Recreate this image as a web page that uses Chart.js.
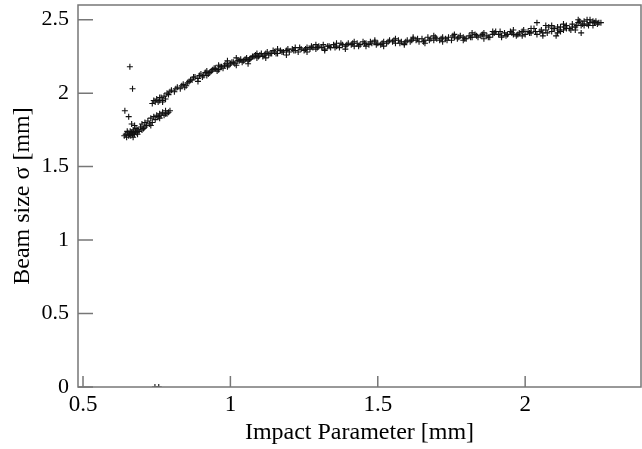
<!DOCTYPE html>
<html>
<head>
<meta charset="utf-8">
<script src="https://cdn.jsdelivr.net/npm/chart.js@4/dist/chart.umd.min.js"></script>
<style>
  html, body { margin: 0; padding: 0; background: #fff; }
  #beamChart { display: block; }
</style>
</head>
<body>
<canvas id="beamChart" width="642" height="449"></canvas>
<script>
// --- data: [impact parameter mm, beam size sigma mm] ---
const xTicks = [0.5, 1, 1.5, 2];
const yTicks = [0, 0.5, 1, 1.5, 2, 2.5];

// tight cluster at the start + stray points
const clusterPts = [
    [0.640,1.71],[0.645,1.72],[0.648,1.70],[0.652,1.73],[0.655,1.71],[0.658,1.72],
    [0.660,1.74],[0.662,1.71],[0.665,1.73],[0.668,1.72],[0.670,1.75],[0.672,1.73],
    [0.675,1.72],[0.678,1.74],[0.680,1.76],[0.683,1.73],[0.686,1.75],[0.690,1.74],
    [0.650,1.74],[0.670,1.70],[0.685,1.72],
    [0.659,2.18],[0.668,2.03],[0.642,1.88],[0.655,1.84],[0.665,1.79],[0.675,1.78]
];

// lower branch (0.69 - 0.80)
const lowerBranchPts = [
    [0.695,1.77],[0.700,1.79],[0.705,1.76],[0.710,1.80],[0.715,1.78],[0.720,1.81],
    [0.725,1.79],[0.730,1.83],[0.735,1.80],[0.740,1.84],[0.745,1.82],[0.750,1.85],
    [0.755,1.84],[0.760,1.86],[0.765,1.85],[0.770,1.87],[0.775,1.85],[0.780,1.88],
    [0.785,1.86],[0.790,1.87],[0.700,1.75],[0.710,1.77],[0.730,1.78],[0.760,1.83],
    [0.780,1.86],[0.795,1.88]
];

// upper branch (0.73 - 0.87)
const upperBranchPts = [
    [0.735,1.93],[0.740,1.95],[0.745,1.94],[0.750,1.96],[0.755,1.94],[0.760,1.95],
    [0.765,1.97],[0.770,1.95],[0.775,1.98],[0.780,1.96],[0.785,2.00],[0.790,1.99],
    [0.800,2.02],[0.810,2.01],[0.820,2.04],[0.830,2.03],[0.840,2.06],[0.850,2.05],
    [0.860,2.08],[0.795,2.01],[0.815,2.03],[0.835,2.05],[0.845,2.04],[0.855,2.07],
    [0.865,2.09],[0.770,1.94],[0.760,1.97]
];

// main curve
const mainCurvePts = [
    [0.87,2.09],[0.88,2.11],[0.89,2.10],[0.90,2.13],[0.91,2.12],[0.92,2.15],[0.93,2.14],
    [0.94,2.16],[0.95,2.17],[0.96,2.16],[0.97,2.18],[0.98,2.19],[0.99,2.18],[1.00,2.20],
    [1.01,2.21],[1.02,2.19],[1.03,2.22],[1.04,2.21],[1.05,2.23],[1.06,2.22],[1.07,2.24],
    [1.08,2.25],[1.09,2.24],[1.10,2.26],[1.11,2.25],[1.12,2.27],[1.13,2.26],[1.14,2.27],
    [1.15,2.28],[1.16,2.27],[1.17,2.29],[1.18,2.28],[1.19,2.29],[1.20,2.28],[1.21,2.30],
    [1.22,2.29],[1.23,2.28],[1.24,2.30],[1.25,2.29],[1.26,2.31],[1.27,2.30],[1.28,2.31],
    [1.29,2.30],[1.30,2.32],[1.31,2.31],[1.32,2.30],[1.33,2.32],[1.34,2.31],[1.35,2.33],
    [1.36,2.32],[1.37,2.31],[1.38,2.33],[1.39,2.32],[1.40,2.34],[1.41,2.33],[1.42,2.32],
    [1.43,2.34],[1.44,2.33],[1.45,2.35],[1.46,2.34],[1.47,2.33],[1.48,2.34],[1.49,2.35],
    [1.50,2.34],[1.51,2.33],[1.52,2.35],[1.53,2.34],[1.54,2.36],[1.55,2.35],[1.56,2.34],
    [1.57,2.36],[1.58,2.35],[1.59,2.34],[1.60,2.36],[1.61,2.35],[1.62,2.37],[1.63,2.36],
    [1.64,2.35],[1.65,2.37],[1.66,2.36],[1.67,2.38],[1.68,2.37],[1.69,2.36],[1.70,2.37],
    [1.71,2.36],[1.72,2.38],[1.73,2.37],[1.74,2.38],[1.75,2.36],[1.76,2.38],[1.77,2.37],
    [1.78,2.39],[1.79,2.38],[1.80,2.37],[1.81,2.39],[1.82,2.38],[1.83,2.40],[1.84,2.38],
    [1.85,2.39],[1.86,2.41],[1.87,2.39],[1.88,2.38],[1.89,2.40],[1.90,2.42],[1.91,2.40],
    [1.92,2.39],[1.93,2.41],[1.94,2.40],[1.95,2.42],[1.96,2.40],[1.97,2.39],[1.98,2.41],
    [1.99,2.42],[2.00,2.40],[2.01,2.42],[2.02,2.41],[2.03,2.44],[2.04,2.40],[2.05,2.42],
    [2.06,2.41],[2.07,2.43],[2.08,2.45],[2.09,2.42],[2.10,2.44],[2.11,2.41],[2.12,2.45],
    [2.13,2.43],[2.14,2.46],[2.15,2.44],[2.16,2.47],[2.17,2.45],[2.18,2.48],[2.19,2.46],
    [2.20,2.49],[2.21,2.47],[2.22,2.48],[2.23,2.46],[2.24,2.49],[2.25,2.48]
];

// extra points in the band
const fillerPts = [
    [0.875,2.11],[0.895,2.12],[0.905,2.11],[0.915,2.14],[0.925,2.13],[0.935,2.15],
    [0.945,2.17],[0.955,2.15],[0.965,2.18],[0.975,2.17],[0.985,2.20],[0.995,2.19],
    [1.005,2.21],[1.015,2.20],[1.025,2.22],[1.035,2.23],[1.045,2.22],[1.055,2.24],
    [1.065,2.23],[1.075,2.25],[1.085,2.26],[1.095,2.25],[1.105,2.27],[1.115,2.26],
    [1.125,2.28],[1.135,2.27],[1.145,2.29],[1.155,2.27],[1.175,2.28],[1.195,2.30],
    [1.215,2.29],[1.235,2.31],[1.255,2.30],[1.275,2.32],[1.295,2.31],[1.315,2.33],
    [1.335,2.32],[1.355,2.31],[1.375,2.34],[1.395,2.33],[1.415,2.34],[1.435,2.32],
    [1.455,2.34],[1.475,2.35],[1.495,2.33],[1.515,2.34],[1.535,2.35],[1.555,2.36],
    [1.575,2.34],[1.595,2.35],[1.615,2.36],[1.635,2.37],[1.655,2.35],[1.675,2.36],
    [1.695,2.38],[1.715,2.37],[1.735,2.36],[1.755,2.39],[1.775,2.38],[1.795,2.37],
    [1.815,2.38],[1.835,2.39],[1.855,2.40],[1.875,2.38],[1.895,2.41],[1.915,2.42],
    [1.935,2.39],[1.955,2.41],[1.975,2.40],[1.995,2.43],[2.015,2.41],[2.035,2.42],
    [2.055,2.43],[2.075,2.41],[2.095,2.44],[2.105,2.39],[2.115,2.43],[2.135,2.45],
    [2.155,2.43],[2.175,2.46],[2.185,2.49],[2.195,2.47],[2.215,2.46],[2.235,2.48],
    [2.245,2.47],[2.04,2.48],[2.07,2.46],[2.19,2.41],[2.16,2.45],[2.21,2.50],[2.257,2.48]
];

// wider scatter above/below the band
const spreadPts = [
    [0.89,2.08],[0.92,2.12],[0.96,2.19],[0.99,2.22],[1.02,2.24],[1.06,2.20],[1.09,2.27],
    [1.12,2.24],[1.16,2.30],[1.19,2.26],[1.22,2.31],[1.26,2.28],[1.29,2.33],[1.32,2.29],
    [1.36,2.34],[1.39,2.30],[1.42,2.35],[1.46,2.32],[1.49,2.36],[1.52,2.32],[1.56,2.37],
    [1.59,2.33],[1.62,2.38],[1.66,2.34],[1.69,2.39],[1.72,2.35],[1.76,2.40],[1.79,2.36],
    [1.82,2.41],[1.86,2.37],[1.89,2.42],[1.92,2.38],[1.96,2.43],[1.99,2.39],[2.02,2.44],
    [2.06,2.39],[2.09,2.46],[2.12,2.42],[2.14,2.44],[2.17,2.43],[2.20,2.46],[2.22,2.50],
    [2.23,2.49],[2.18,2.50],[2.11,2.45],[2.13,2.47]
];

// failed fits sitting on zero
const zeroPts = [[0.744,0],[0.757,0]];

const allPts = [].concat(clusterPts, lowerBranchPts, upperBranchPts, mainCurvePts, fillerPts, spreadPts, zeroPts)
    .map(p => ({ x: p[0], y: p[1] }));

const AXIS_COLOR = '#777';
const SERIF = '"Liberation Serif", "DejaVu Serif", serif';

// frame + inward ticks (ROOT style)
const framePlugin = {
    id: 'frame',
    afterDraw(chart) {
        const { ctx, chartArea: a, scales } = chart;
        ctx.save();
        ctx.strokeStyle = AXIS_COLOR;
        ctx.lineWidth = 1.5;
        ctx.strokeRect(a.left, a.top, a.right - a.left, a.bottom - a.top);
        ctx.beginPath();
        xTicks.forEach(v => {
            const px = scales.x.getPixelForValue(v);
            ctx.moveTo(px, a.bottom);
            ctx.lineTo(px, a.bottom - 11);
        });
        yTicks.forEach(v => {
            const py = scales.y.getPixelForValue(v);
            ctx.moveTo(a.left, py);
            ctx.lineTo(a.left + 15, py);
        });
        ctx.stroke();
        ctx.restore();
    }
};

const ctx = document.getElementById('beamChart').getContext('2d');
new Chart(ctx, {
    type: 'scatter',
    data: {
        datasets: [{
            label: 'beam size',
            data: allPts,
            pointStyle: 'cross',
            pointRadius: 3,
            borderWidth: 1.1,
            borderColor: '#111',
            backgroundColor: '#111'
        }]
    },
    options: {
        responsive: false,
        animation: false,
        layout: { autoPadding: false, padding: { top: 5, right: 1, left: 0, bottom: 0 } },
        plugins: {
            legend: { display: false },
            tooltip: { enabled: false }
        },
        scales: {
            x: {
                type: 'linear',
                min: 0.483,
                max: 2.393,
                grid: { display: false, drawTicks: false },
                border: { display: false },
                ticks: {
                    stepSize: 0.5,
                    includeBounds: false,
                    padding: 4,
                    color: '#000',
                    font: { family: SERIF, size: 23 },
                    maxRotation: 0,
                    callback: v => String(v)
                },
                title: {
                    display: true,
                    text: 'Impact Parameter [mm]',
                    color: '#000',
                    font: { family: SERIF, size: 24 },
                    padding: { top: 0, bottom: 2 }
                },
                afterFit: s => {
                    s.height = 62;
                    s.paddingLeft = 0;
                    s.paddingRight = 0;
                }
            },
            y: {
                type: 'linear',
                min: 0,
                max: 2.6,
                grid: { display: false, drawTicks: false },
                border: { display: false },
                ticks: {
                    stepSize: 0.5,
                    includeBounds: false,
                    padding: 9,
                    color: '#000',
                    font: { family: SERIF, size: 22 },
                    callback: v => String(v)
                },
                title: {
                    display: true,
                    text: 'Beam size σ [mm]',
                    color: '#000',
                    font: { family: SERIF, size: 24 },
                    padding: { top: 8, bottom: 0 }
                },
                afterFit: s => {
                    s.width = 78;
                    s.paddingTop = 0;
                    s.paddingBottom = 0;
                }
            }
        }
    },
    plugins: [framePlugin]
});
</script>
</body>
</html>
